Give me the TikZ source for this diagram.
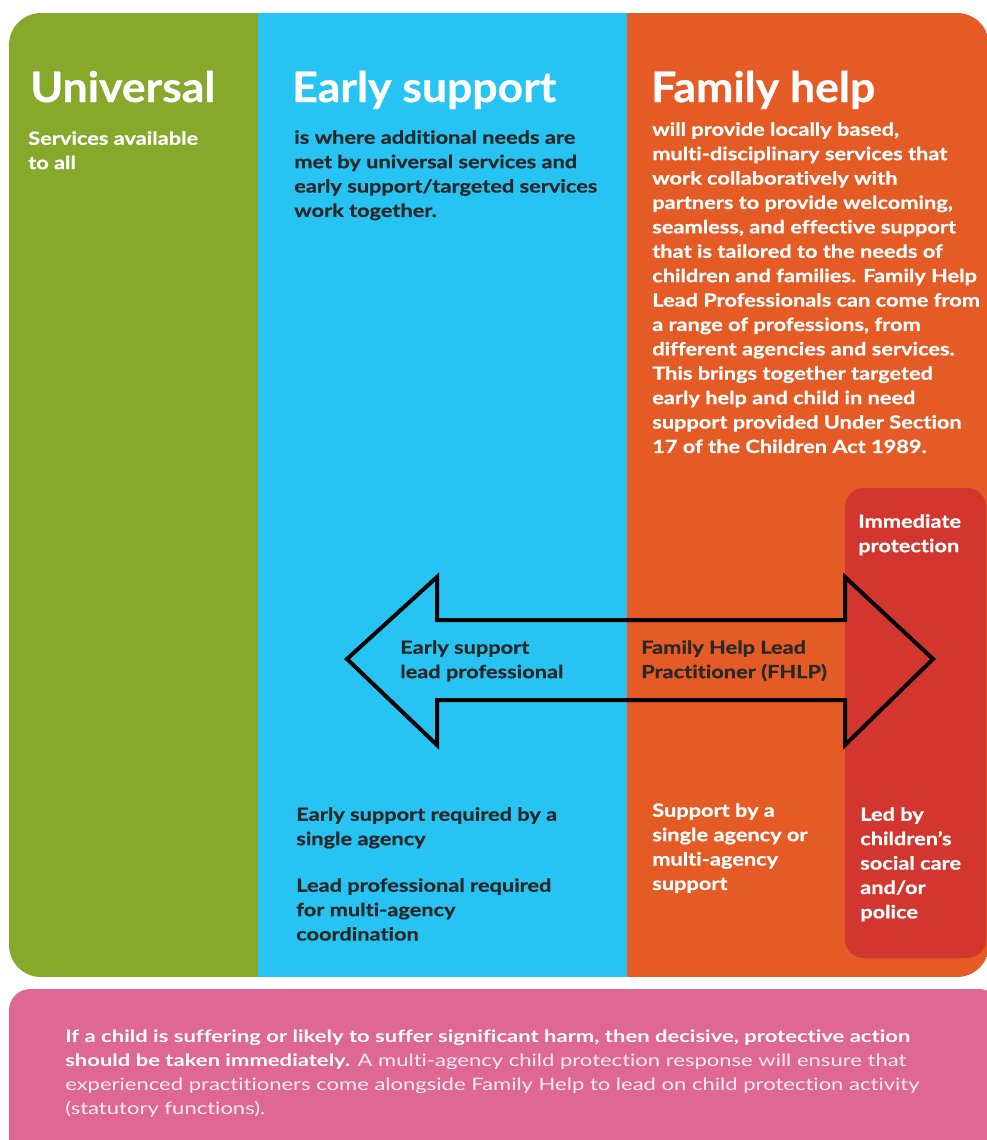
\documentclass[tikz,border=0pt]{standalone}
\usepackage{fontspec}
\setmainfont{Lato}
\newfontfamily\headfont[FakeStretch=1.06,FakeBold=0.6,Ligatures=NoCommon]{Lato}
\newfontfamily\bodyfont[FakeStretch=1.2,FakeBold=0.7,Ligatures=NoCommon]{Lato}
\newfontfamily\pinkfont[FakeStretch=1.29,Ligatures=NoCommon]{Lato}
\definecolor{cgreen}{RGB}{134,168,43}
\definecolor{cblue}{RGB}{39,195,242}
\definecolor{corange}{RGB}{229,91,37}
\definecolor{cred}{RGB}{210,54,46}
\definecolor{cpink}{RGB}{222,103,148}
\definecolor{cdark}{RGB}{40,40,40}
\definecolor{cpinktext}{RGB}{252,236,242}
\begin{document}
\begin{tikzpicture}[x=0.75pt,y=-0.75pt,
  head/.style={anchor=base west,inner sep=0pt,text=white,font=\headfont\fontsize{31.5}{36}\selectfont\bfseries},
  body/.style={anchor=north west,inner sep=0pt,align=left,font=\bodyfont\fontsize{13.6}{18.3}\selectfont\bfseries},
  wtext/.style={body,text=white},
  dtext/.style={body,text=cdark},
  pinktext/.style={anchor=north west,inner sep=0pt,align=left,text=cpinktext,font=\pinkfont\fontsize{12.8}{18}\selectfont}]
\useasboundingbox (0,0) rectangle (987,1140);
\fill[white] (0,0) rectangle (987,1140);
% main panel
\begin{scope}
\clip[rounded corners=24pt] (9,13) rectangle (989,977);
\fill[cgreen] (9,13) rectangle (258,977);
\fill[cblue] (258,13) rectangle (627,977);
\fill[corange] (627,13) rectangle (989,977);
\end{scope}
% red column
\fill[cred,rounded corners=14pt] (845,488) rectangle (986,958);
% pink box
\fill[cpink,rounded corners=16pt] (9,989) rectangle (1000,1170);
% headings
\node[head] (hU) at (30,102) {Universal};
\node[head] (hE) at (292,102) {Early support};
\node[head] (hF) at (651,102) {Family help};
% descriptions
\node[wtext] (tU) at (28,131) {Services available\\to all};
\node[dtext] (tE) at (294,130) {is where additional needs are\\met by universal services and\\early support/targeted services\\work together.};
\node[wtext] (tF) at (652,122) {will provide locally based,\\multi-disciplinary services that\\work collaboratively with\\partners to provide welcoming,\\seamless, and effective support\\that is tailored to the needs of\\children and families. Family Help\\Lead Professionals can come from\\a range of professions, from\\different agencies and services.\\This brings together targeted\\early help and child in need\\support provided Under Section\\17 of the Children Act 1989.};
\node[wtext] (tR) at (858,514) {Immediate\\protection};
% arrow
\coordinate (ltip) at (347,659);
\coordinate (rtip) at (933,659);
\draw[line width=3pt,line join=miter] (ltip) -- (437,577) -- (437,620) -- (845,620) -- (845,577) -- (rtip) -- (845,745) -- (845,700) -- (437,700) -- (437,745) -- cycle;
\node[dtext] (aL) at (400,640) {Early support\\lead professional};
\node[dtext] (aR) at (641,640) {Family Help Lead\\Practitioner (FHLP)};
% lower texts
\node[dtext] (bE1) at (296,807) {Early support required by a\\single agency};
\node[dtext] (bE2) at (296,878) {Lead professional required\\for multi-agency\\coordination};
\node[wtext] (bF) at (652,803) {Support by a\\single agency or\\multi-agency\\support};
\node[wtext] (bR) at (860,807) {Led by\\children’s\\social care\\and/or\\police};
% pink text
\node[pinktext] (pk) at (65,1030) {{\color{white}\bfseries If a child is suffering or likely to suffer significant harm, then decisive, protective action}\\{\color{white}\bfseries should be taken immediately.} A multi-agency child protection response will ensure that\\experienced practitioners come alongside Family Help to lead on child protection activity\\(statutory functions).};
\end{tikzpicture}
\end{document}
